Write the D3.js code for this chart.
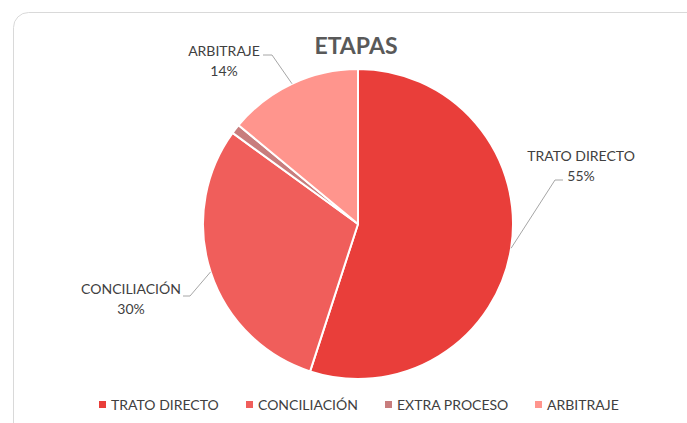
<!DOCTYPE html>
<html>
<head>
<meta charset="utf-8">
<script src="https://cdn.jsdelivr.net/npm/d3@7"></script>
<style>
  html, body { margin: 0; padding: 0; background: #fff; }
  svg { display: block; font-family: Lato, "Open Sans", sans-serif; }
</style>
</head>
<body>
<svg id="chart" width="687" height="423"></svg>
<script>
const categories = ["TRATO DIRECTO", "CONCILIACIÓN", "EXTRA PROCESO", "ARBITRAJE"];
const values = [55, 30, 1, 14];
const percentLabels = ["55%", "30%", "", "14%"];
const colors = ["#E93E3A", "#F05E5B", "#C87D7D", "#FF958D"];

const width = 687, height = 423;
const cx = 358, cy = 224, radius = 155;

const svg = d3.select("#chart");

// card border
svg.append("rect")
  .attr("x", 13.5).attr("y", 12.5)
  .attr("width", 700).attr("height", 440)
  .attr("rx", 15).attr("ry", 15)
  .attr("fill", "#fff")
  .attr("stroke", "#d9d9d9")
  .attr("stroke-width", 1);

svg.append("text")
  .attr("x", 356).attr("y", 54)
  .attr("text-anchor", "middle")
  .attr("font-size", 23)
  .attr("font-weight", "bold")
  .attr("fill", "#595959")
  .text("ETAPAS");

const data = categories.map((c, i) => ({ name: c, value: values[i], label: percentLabels[i], color: colors[i] }));

const pie = d3.pie().value(d => d.value).sort(null);
const arc = d3.arc().innerRadius(0).outerRadius(radius);
const arcs = pie(data);

const g = svg.append("g").attr("transform", `translate(${cx},${cy})`);

g.selectAll("path.slice")
  .data(arcs)
  .enter().append("path")
  .attr("class", "slice")
  .attr("d", arc)
  .attr("fill", d => d.data.color)
  .attr("stroke", "#fff")
  .attr("stroke-width", 2)
  .attr("stroke-linejoin", "round");

// label layout (elbow point, line end, text position), relative to svg
const labelLayout = {
  "TRATO DIRECTO": { elbow: [555, 180], end: [563, 180], tx: 581, ty: 161 },
  "CONCILIACIÓN": { elbow: [190, 296], end: [183, 296], tx: 131, ty: 294 },
  "ARBITRAJE": { elbow: [272, 55], end: [263, 55], tx: 224, ty: 56 }
};

const labels = svg.append("g");
arcs.filter(d => d.data.label).forEach(d => {
  const lay = labelLayout[d.data.name];
  const a = (d.startAngle + d.endAngle) / 2;
  const px = cx + radius * Math.sin(a), py = cy - radius * Math.cos(a);
  labels.append("polyline")
    .attr("points", [[px, py], lay.elbow, lay.end].map(p => p.join(",")).join(" "))
    .attr("fill", "none")
    .attr("stroke", "#a6a6a6")
    .attr("stroke-width", 1);
  const t = labels.append("text")
    .attr("text-anchor", "middle")
    .attr("font-size", 14)
    .attr("fill", "#404040");
  t.append("tspan").attr("x", lay.tx).attr("y", lay.ty).text(d.data.name);
  t.append("tspan").attr("x", lay.tx).attr("y", lay.ty + 20).text(d.data.label);
});

// legend
const legendX = [99, 246, 385, 535];
const legend = svg.append("g");
data.forEach((d, i) => {
  legend.append("rect")
    .attr("x", legendX[i]).attr("y", 401)
    .attr("width", 7).attr("height", 7)
    .attr("fill", d.color);
  legend.append("text")
    .attr("x", legendX[i] + 12).attr("y", 410)
    .attr("font-size", 14)
    .attr("fill", "#404040")
    .text(d.name);
});
</script>
</body>
</html>
